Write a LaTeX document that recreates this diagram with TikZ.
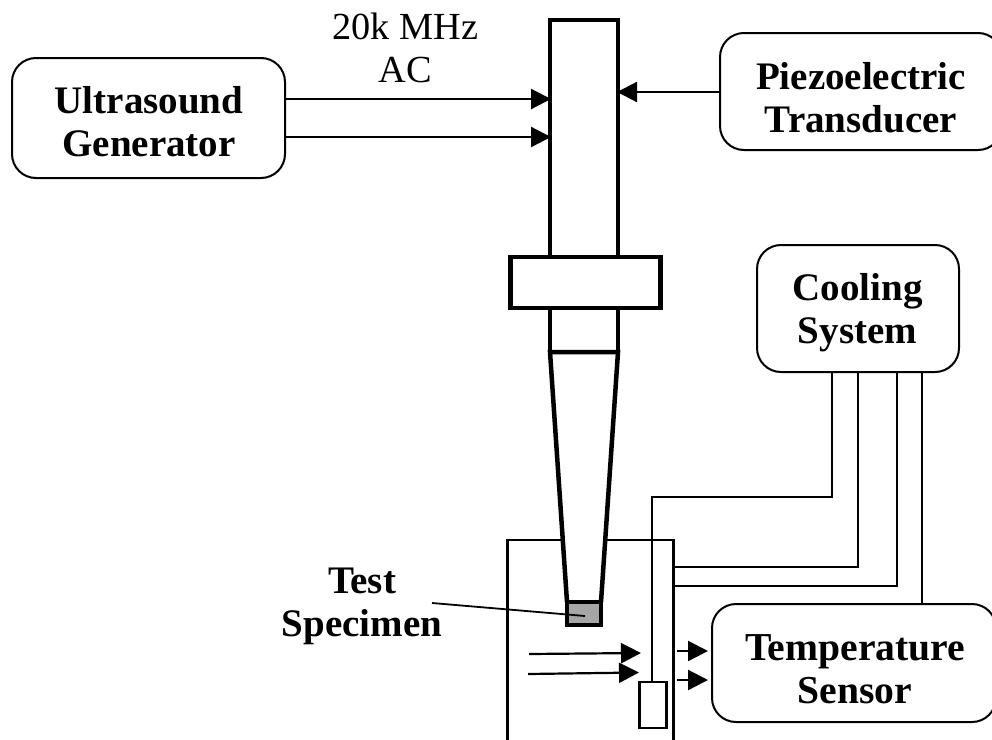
\documentclass[tikz,border=0pt]{standalone}
\usepackage{fontspec}
\setmainfont{Liberation Serif}
\usetikzlibrary{arrows.meta}
\tikzset{
  rbox/.style={draw=black,line width=2pt,rounded corners=24pt,inner sep=0pt},
  thick part/.style={draw=black,line width=4.5pt,miter limit=10},
  wire/.style={draw=black,line width=2.2pt},
  arr/.style={draw=black,line width=2.2pt,-{Triangle[length=20pt,width=20pt]},shorten >=-1pt},
  txt/.style={inner sep=0pt,align=center,font=\fontsize{38.3}{43}\selectfont},
  btxt/.style={txt,font=\fontsize{39}{43}\selectfont\bfseries},
}
\begin{document}
\begin{tikzpicture}[x=1pt,y=-1pt]
\useasboundingbox (0,0) rectangle (992,739);
\clip (0,0) rectangle (992,739);
\fill[white] (0,0) rectangle (992,739);
% boxes
\node[rbox,minimum width=273pt,minimum height=120pt] (ug) at (148.5,118) {};
\node[btxt] (ugt) at (149,122) {Ultrasound\\Generator};
\node[rbox,minimum width=282pt,minimum height=117pt] (pt) at (861,91.5) {};
\node[btxt] (ptt) at (861,98) {Piezoelectric\\Transducer};
\node[rbox,minimum width=202pt,minimum height=127pt] (cs) at (858,308.5) {};
\node[btxt] (cst) at (857.5,313) {Cooling\\System};
\node[rbox,minimum width=284pt,minimum height=118pt] (ts) at (854,663) {};
\node[btxt,font=\fontsize{39.6}{43}\selectfont\bfseries] (tst) at (855,669) {Temperature\\Sensor};
\node[txt] (freq) at (405.5,48) {20k MHz\\AC};
\node[btxt] (spec) at (362,606) {Test\\Specimen};
% tank (open at the bottom, interrupted by the horn)
\coordinate (tankBL) at (507.5,745);
\coordinate (tankTL) at (507.5,540);
\coordinate (tankTR) at (673.5,540);
\coordinate (tankBR) at (673.5,745);
\draw[wire,line join=miter] (tankBL) -- (tankTL) -- (tankTR) -- (tankBR);
% horn
\fill[white] (550,352) -- (618,352) -- (601,602) -- (567,602) -- cycle;
\node[thick part,minimum width=68pt,minimum height=332pt,inner sep=0pt] (bar) at (584,186) {};
\node[thick part,fill=white,minimum width=150pt,minimum height=51pt,inner sep=0pt] (collar) at (585.5,282.5) {};
\coordinate (coneTL) at (550,352);
\coordinate (coneTR) at (618,352);
\coordinate (coneBL) at (567,602);
\coordinate (coneBR) at (601,602);
\draw[thick part] (coneBL) -- (coneTL) -- (coneTR) -- (coneBR);
\node[thick part,fill=black!35,minimum width=34pt,minimum height=23pt,inner sep=0pt] (sp) at (584,613.5) {};
% leader
\coordinate (leadA) at (432,603);
\coordinate (leadB) at (585,616);
\draw[wire,line width=1.8pt] (leadA) -- (leadB);
% probe
\node[wire,minimum width=27pt,minimum height=46pt,inner sep=0pt] (probe) at (653,705) {};
\coordinate (p1) at (652,497);
\coordinate (p2) at (832,497);
\draw[wire] (probe.north -| p1) -- (p1) -- (p2) -- (p2 |- cs.south);
% cooling lines
\coordinate (c1) at (858,567);
\coordinate (c2) at (897,586);
\draw[wire] (tankTR |- c1) -- (c1) -- (c1 |- cs.south);
\draw[wire] (tankTR |- c2) -- (c2) -- (c2 |- cs.south);
\coordinate (c3) at (922,400);
\draw[wire] (c3 |- cs.south) -- (c3 |- ts.north);
% arrows
\coordinate (a1) at (550,99);
\coordinate (a2) at (550,137);
\coordinate (a3) at (618,92);
\draw[arr] (ug.east |- a1) -- (a1);
\draw[arr] (ug.east |- a2) -- (a2);
\draw[arr] (pt.west |- a3) -- (a3);
\coordinate (f1a) at (529,654);
\coordinate (f1b) at (640,653);
\coordinate (f2a) at (528,674);
\coordinate (f2b) at (638,672.5);
\draw[arr] (f1a) -- (f1b);
\draw[arr] (f2a) -- (f2b);
\coordinate (g1a) at (677,651);
\coordinate (g2a) at (677,680);
\draw[arr,shorten >=3pt] (g1a) -- (ts.west |- g1a);
\draw[arr,shorten >=3pt] (g2a) -- (ts.west |- g2a);
\end{tikzpicture}
\end{document}
